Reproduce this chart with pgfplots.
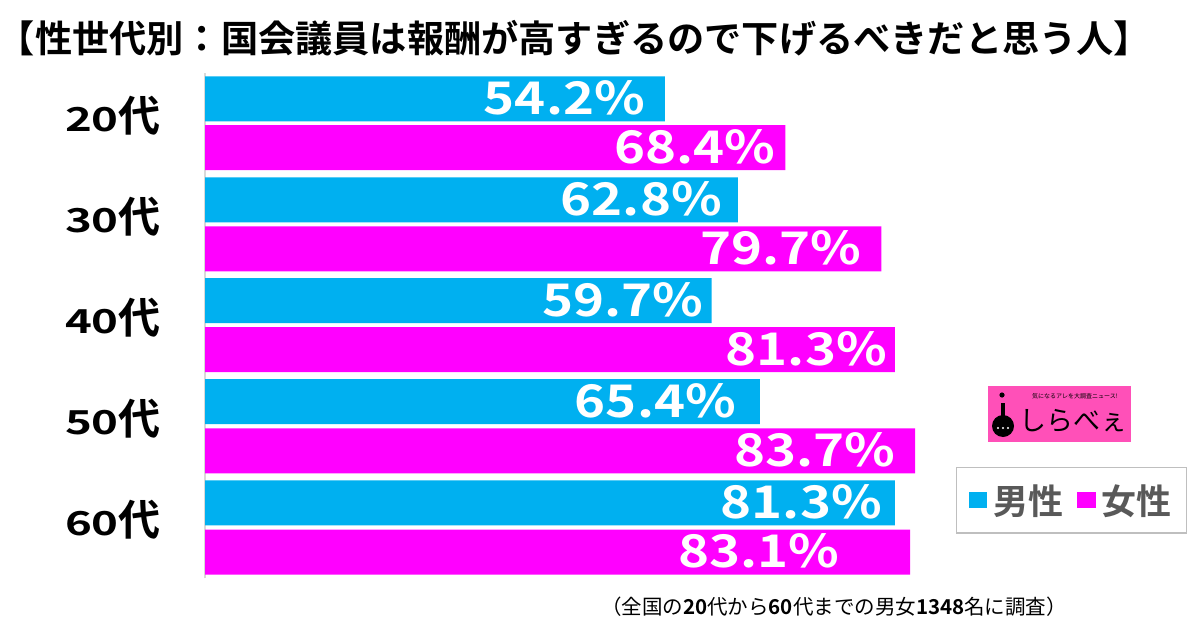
\documentclass[border=0pt]{standalone}
\usepackage{fontspec}
\usepackage{graphicx}
\setmainfont{Noto Sans CJK JP}[BoldFont={Noto Sans CJK JP Bold}]
\newfontfamily\valfont{Noto Sans CJK JP Bold}
\usepackage{pgfplots}
\pgfplotsset{compat=1.18}
\usepackage{pgfplotstable}
\definecolor{cblue}{HTML}{00B0F0}
\definecolor{cmag}{HTML}{FF00FF}
\definecolor{logopink}{HTML}{FF50B8}
\definecolor{legtext}{HTML}{595959}
\newcommand\vl[2]{\llap{\raisebox{-16.4pt}[0pt][0pt]{\scalebox{1.17}[1]{#1\%}}\kern#2pt}}
\newcommand\cl[1]{\scalebox{1.38}[1]{\fontsize{33}{33}\selectfont\bfseries #1}\fontsize{42}{42}\selectfont\bfseries 代}

\pgfplotstableread{
y x lab
-98.8 54.2 \vl{54.2}{20}
-199.8 62.8 \vl{62.8}{16}
-300.5 59.7 \vl{59.7}{8}
-401.7 65.4 \vl{65.4}{24}
-502.8 81.3 \vl{81.3}{13}
}\male
\pgfplotstableread{
y x lab
-147.5 68.4 \vl{68.4}{10}
-248.8 79.7 \vl{79.7}{20}
-349.5 81.3 \vl{81.3}{8}
-450.8 83.7 \vl{83.7}{20}
-552.0 83.1 \vl{83.1}{71}
}\female

\pgfplotsset{valbar/.style={
  xbar, bar width=45, bar shift=0pt, draw=none, forget plot,
  point meta=explicit symbolic,
  nodes near coords={\pgfplotspointmeta},
  every node near coord/.append style={font=\valfont\fontsize{45}{45}\selectfont, text=white, inner sep=0pt},
}}

\begin{document}
\begin{tikzpicture}[x=1pt,y=1pt]
\useasboundingbox (0,0) rectangle (1200,-626);
\node[font=\fontsize{37.2}{37.2}\selectfont\bfseries, anchor=center, inner sep=0pt] at (574.5,-38.5) {【性世代別：国会議員は報酬が高すぎるので下げるべきだと思う人】};
\begin{axis}[
  at={(205pt,-578pt)}, anchor=south west,
  width=848.5pt, height=505pt, scale only axis,
  xmin=0, xmax=100, ymin=-578, ymax=-73,
  axis x line=none, axis y line*=left,
  y axis line style={-, draw=black!15, line width=1.5pt},
  ytick={-123.2,-224.3,-325,-426.2,-527.4},
  yticklabels={\cl{20},\cl{30},\cl{40},\cl{50},\cl{60}},
  major tick length=0pt,
  yticklabel style={anchor=base east, inner sep=0pt, xshift=-44pt, yshift=-8pt},
  clip=false,
  legend style={at={(axis cs:102.1,-500.3)}, anchor=center, draw=black!25, line width=1.2pt,
    font=\fontsize{35}{35}\selectfont\bfseries, text=legtext, inner xsep=13pt, inner ysep=15pt,
    /tikz/every even column/.append style={column sep=12pt},
    /tikz/every odd column/.append style={column sep=4pt}},
  legend columns=2,
  legend cell align=left,
]
\addplot[valbar, fill=cblue] table[x=x, y=y, meta=lab] {\male};
\addplot[valbar, fill=cmag] table[x=x, y=y, meta=lab] {\female};
\addlegendimage{legend image code/.code={\fill[cblue] (0pt,-7.5pt) rectangle (17pt,7.5pt);}}
\addlegendentry{男性}
\addlegendimage{legend image code/.code={\fill[cmag] (0pt,-7.5pt) rectangle (17pt,7.5pt);}}
\addlegendentry{女性}
\end{axis}
% logo
\fill[logopink] (988,-386) rectangle (1131,-442);
\node[font=\fontsize{6}{6}\selectfont, anchor=center, inner sep=0pt] at (1075,-396) {気になるアレを大調査ニュース!};
\node[font=\fontsize{27}{27}\selectfont, anchor=west, inner sep=0pt] at (1019,-421) {しらべぇ};
\fill[black] (1003,-426) circle (11);
\draw[black, line width=4pt] (1003,-403) -- (1003,-418);
\fill[black] (1002,-395) circle (2.6);
\fill[white] (998,-428) circle (1.2) (1003,-428) circle (1.2) (1008,-428) circle (1.2);
\node[font=\fontsize{20.5}{21}\selectfont, anchor=center, inner sep=0pt] at (834,-607) {（全国の\textbf{20}代から\textbf{60}代までの男女\textbf{1348}名に調査）};
\end{tikzpicture}
\end{document}
